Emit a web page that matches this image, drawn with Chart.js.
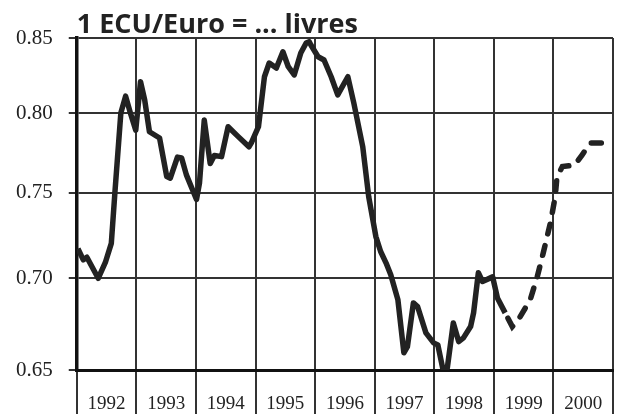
<!DOCTYPE html>
<html>
<head>
<meta charset="utf-8">
<script src="https://cdn.jsdelivr.net/npm/chart.js@4"></script>
<style>
  body { margin: 0; background: #fff; }
  #wrap { width: 622px; height: 414px; }
</style>
</head>
<body>
<div id="wrap"><canvas id="ecu-chart"></canvas></div>
<script>
// observed rate, decimal year -> livres per ECU/Euro
const dates = [1992.02, 1992.11, 1992.17, 1992.36, 1992.48, 1992.58, 1992.64, 1992.74, 1992.82, 1992.90, 1992.99,
    1993.07, 1993.14, 1993.22, 1993.39, 1993.51, 1993.57, 1993.69, 1993.76, 1993.84,
    1994.01, 1994.06, 1994.14, 1994.24, 1994.31, 1994.43, 1994.54, 1994.71, 1994.89, 1994.93,
    1995.05, 1995.15, 1995.23, 1995.35, 1995.46, 1995.55, 1995.65, 1995.76, 1995.85, 1995.90, 1995.93,
    1996.05, 1996.15, 1996.27, 1996.38, 1996.55, 1996.65, 1996.80, 1996.90,
    1997.02, 1997.10, 1997.19, 1997.27, 1997.39, 1997.49, 1997.55, 1997.65, 1997.72, 1997.86, 1997.99,
    1998.06, 1998.14, 1998.22, 1998.32, 1998.41, 1998.49, 1998.61, 1998.66, 1998.74, 1998.81, 1998.98,
    1999.06, 1999.19];
const rates = [0.717, 0.7105, 0.712, 0.700, 0.709, 0.720, 0.750, 0.800, 0.811, 0.800, 0.789,
    0.8205, 0.8085, 0.788, 0.784, 0.760, 0.759, 0.772, 0.7715, 0.761,
    0.746, 0.756, 0.7955, 0.768, 0.773, 0.7723, 0.7912, 0.7849, 0.7785, 0.781,
    0.7912, 0.8238, 0.833, 0.8296, 0.8406, 0.8305, 0.825, 0.8398, 0.8466, 0.8475, 0.8452,
    0.8372, 0.835, 0.8238, 0.8118, 0.8238, 0.8065, 0.7785, 0.7477,
    0.724, 0.7153, 0.7088, 0.702, 0.6879, 0.6591, 0.6624, 0.6862, 0.6842, 0.6698, 0.6644,
    0.6633, 0.6512, 0.6512, 0.6752, 0.6651, 0.6671, 0.6732, 0.6807, 0.7031, 0.6982, 0.7008,
    0.689, 0.6807];

// projected part (dashed)
const fcDates = [1999.19, 1999.31, 1999.41, 1999.61, 1999.73, 1999.83, 1999.95, 2000.03, 2000.06, 2000.15, 2000.36, 2000.48, 2000.62, 2000.87];
const fcRates = [0.6807, 0.6732, 0.6769, 0.6879, 0.701, 0.7146, 0.7321, 0.7477, 0.7599, 0.7661, 0.7671, 0.7733, 0.7809, 0.7809];

const yearTicks = [1992, 1993, 1994, 1995, 1996, 1997, 1998, 1999, 2000, 2001];
const yearLabels = ['1992', '1993', '1994', '1995', '1996', '1997', '1998', '1999', '2000'];
const rateTicks = [0.65, 0.70, 0.75, 0.80, 0.85];

const ink = '#222';
const serif = 'Liberation Serif';

const toPoints = (xs, ys) => xs.map((x, i) => ({ x: x, y: ys[i] }));

// title sits over the top border, year names sit between the long tick marks
const textPlugin = {
    id: 'extraText',
    afterDraw(chart) {
        const ctx = chart.ctx;
        const xs = chart.scales.x;
        ctx.save();
        ctx.fillStyle = ink;
        ctx.font = 'bold 27px "Open Sans"';
        ctx.textBaseline = 'alphabetic';
        ctx.textAlign = 'left';
        ctx.fillText('1 ECU/Euro = ... livres', chart.chartArea.left, 33);
        ctx.font = '19px "' + serif + '"';
        ctx.textAlign = 'center';
        yearLabels.forEach((lab, i) => {
            const x = (xs.getPixelForValue(yearTicks[i]) + xs.getPixelForValue(yearTicks[i + 1])) / 2;
            ctx.fillText(lab, x, 409);
        });
        ctx.restore();
    }
};

document.addEventListener('DOMContentLoaded', () => {
    const ctx = document.getElementById('ecu-chart').getContext('2d');
    new Chart(ctx, {
        type: 'line',
        data: {
            datasets: [{
                data: toPoints(dates, rates),
                borderColor: ink,
                borderWidth: 5.5,
                borderJoinStyle: 'round',
                pointRadius: 0,
                tension: 0
            }, {
                data: toPoints(fcDates, fcRates),
                borderColor: ink,
                borderWidth: 5.5,
                borderDash: [10, 12],
                borderDashOffset: -6,
                borderCapStyle: 'round',
                pointRadius: 0,
                tension: 0
            }]
        },
        options: {
            responsive: true,
            maintainAspectRatio: false,
            animation: false,
            layout: { padding: { left: 0, right: 9, top: 38, bottom: 0 } },
            plugins: {
                legend: { display: false },
                tooltip: { enabled: false }
            },
            scales: {
                x: {
                    type: 'linear',
                    min: 1992,
                    max: 2001,
                    afterBuildTicks: axis => { axis.ticks = yearTicks.map(v => ({ value: v })); },
                    grid: { color: '#333', lineWidth: 2, tickLength: 44 },
                    border: { color: '#111', width: 3 },
                    ticks: { display: false }
                },
                y: {
                    type: 'logarithmic',
                    min: 0.65,
                    max: 0.85,
                    afterBuildTicks: axis => { axis.ticks = rateTicks.map(v => ({ value: v })); },
                    grid: { color: '#333', lineWidth: 2, tickLength: 8 },
                    border: { color: '#111', width: 3.5 },
                    ticks: {
                        padding: 16,
                        color: ink,
                        font: { family: serif, size: 21 },
                        callback: v => v.toFixed(2)
                    }
                }
            }
        },
        plugins: [textPlugin]
    });
});
</script>
</body>
</html>
